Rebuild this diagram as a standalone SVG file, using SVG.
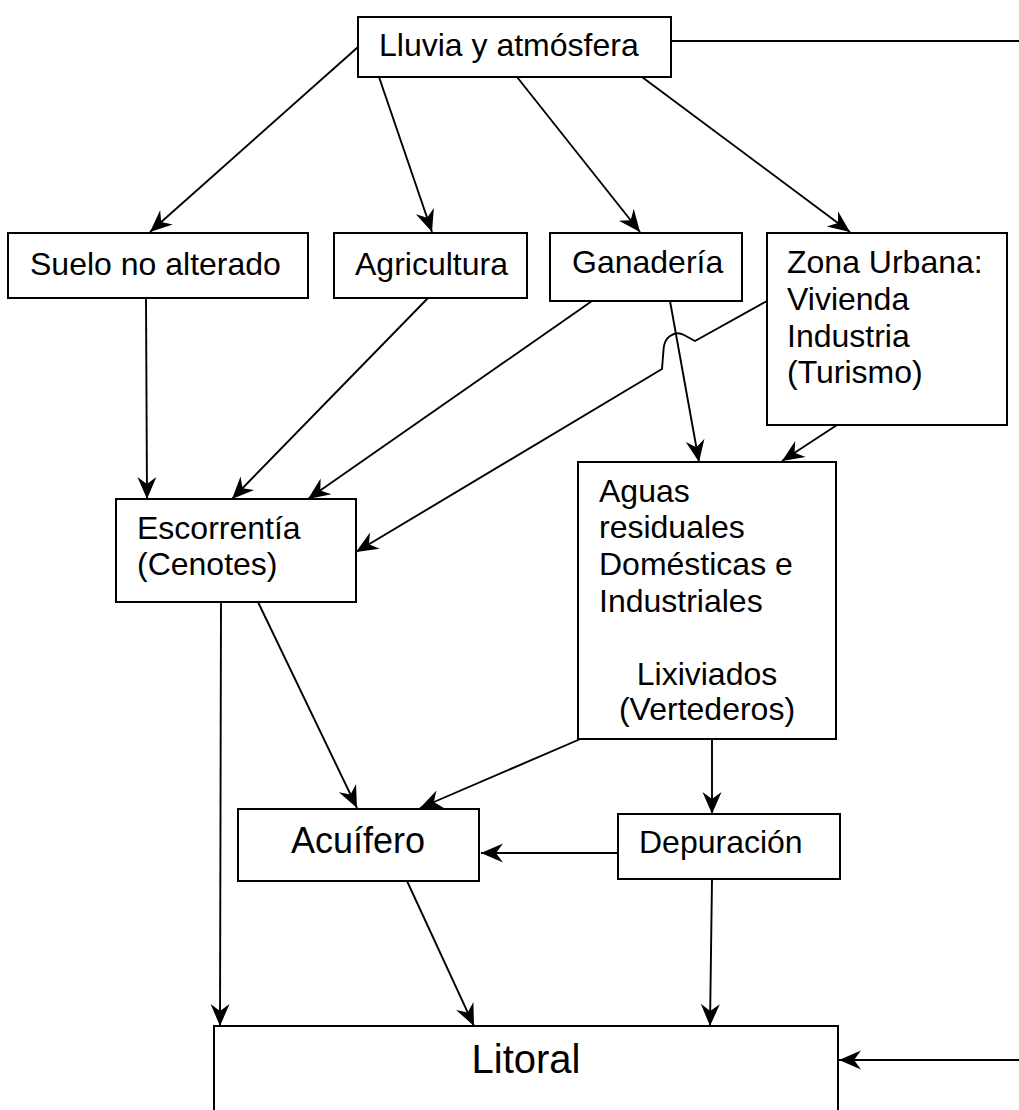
<svg xmlns="http://www.w3.org/2000/svg" width="1019" height="1110" viewBox="0 0 1019 1110">
  <style>
    .box { fill: #ffffff; stroke: #000000; stroke-width: 2; }
    .lbl { font-family: "Liberation Sans", Arial, sans-serif; font-size: 32px; fill: #000000; }
    .edge { fill: none; stroke: #000000; stroke-width: 1.9; }
  </style>
  <defs>
    <marker id="arrow" viewBox="-24 -11 25 22" refX="0" refY="0" markerWidth="25" markerHeight="22" orient="auto" markerUnits="userSpaceOnUse">
      <path d="M0,0 L-22,-9.5 L-15,0 L-22,9.5 Z" fill="#000000"/>
    </marker>
  </defs>
  <rect x="0" y="0" width="1019" height="1110" fill="#ffffff"/>

  <!-- connectors -->
  <g id="connectors">
    <line class="edge" x1="671" y1="41" x2="1019" y2="41"/>
    <line class="edge" x1="358" y1="47" x2="150" y2="232" marker-end="url(#arrow)"/>
    <line class="edge" x1="379" y1="77" x2="432" y2="232" marker-end="url(#arrow)"/>
    <line class="edge" x1="517" y1="77" x2="640" y2="232" marker-end="url(#arrow)"/>
    <line class="edge" x1="642" y1="77" x2="850" y2="232" marker-end="url(#arrow)"/>
    <line class="edge" x1="146" y1="298" x2="147" y2="499" marker-end="url(#arrow)"/>
    <line class="edge" x1="428" y1="298" x2="232" y2="499" marker-end="url(#arrow)"/>
    <line class="edge" x1="592" y1="301" x2="308" y2="499" marker-end="url(#arrow)"/>
    <!-- Zona Urbana to Escorrentía, hopping over the Ganadería line -->
    <path class="edge" d="M767,301 L695,341 L684,335 Q677,331 670,336 Q664,340 663.5,350 L662,369 L356,552" marker-end="url(#arrow)"/>
    <line class="edge" x1="670" y1="301" x2="699" y2="462" marker-end="url(#arrow)"/>
    <line class="edge" x1="837" y1="425" x2="782" y2="461" marker-end="url(#arrow)"/>
    <line class="edge" x1="221" y1="602" x2="220" y2="1026" marker-end="url(#arrow)"/>
    <line class="edge" x1="258" y1="602" x2="357" y2="808" marker-end="url(#arrow)"/>
    <line class="edge" x1="585" y1="737" x2="420" y2="808" marker-end="url(#arrow)"/>
    <line class="edge" x1="712" y1="739" x2="712" y2="814" marker-end="url(#arrow)"/>
    <line class="edge" x1="618" y1="853" x2="481" y2="853" marker-end="url(#arrow)"/>
    <line class="edge" x1="407" y1="881" x2="474" y2="1026" marker-end="url(#arrow)"/>
    <line class="edge" x1="712" y1="879" x2="710" y2="1026" marker-end="url(#arrow)"/>
    <line class="edge" x1="1019" y1="1060" x2="839" y2="1060" marker-end="url(#arrow)"/>
  </g>

  <!-- nodes -->
  <g id="lluvia">
    <rect class="box" x="358" y="17" width="313" height="60"/>
    <text class="lbl" x="379" y="56">Lluvia y atmósfera</text>
  </g>
  <g id="suelo">
    <rect class="box" x="8" y="233" width="300" height="65"/>
    <text class="lbl" x="30" y="275">Suelo no alterado</text>
  </g>
  <g id="agricultura">
    <rect class="box" x="334" y="233" width="193" height="65"/>
    <text class="lbl" x="355" y="275">Agricultura</text>
  </g>
  <g id="ganaderia">
    <rect class="box" x="550" y="233" width="192" height="68"/>
    <text class="lbl" x="572" y="273">Ganadería</text>
  </g>
  <g id="zona-urbana">
    <rect class="box" x="767" y="233" width="240" height="192"/>
    <text class="lbl" x="787" y="273">Zona Urbana:</text>
    <text class="lbl" x="787" y="310">Vivienda</text>
    <text class="lbl" x="787" y="346.5">Industria</text>
    <text class="lbl" x="787" y="383">(Turismo)</text>
  </g>
  <g id="escorrentia">
    <rect class="box" x="116" y="499" width="240" height="103"/>
    <text class="lbl" x="137" y="539">Escorrentía</text>
    <text class="lbl" x="137" y="575">(Cenotes)</text>
  </g>
  <g id="aguas-residuales">
    <rect class="box" x="578" y="462" width="258" height="277"/>
    <text class="lbl" x="599" y="502">Aguas</text>
    <text class="lbl" x="599" y="538">residuales</text>
    <text class="lbl" x="599" y="575">Domésticas e</text>
    <text class="lbl" x="599" y="612">Industriales</text>
    <text class="lbl" x="707" y="685" text-anchor="middle">Lixiviados</text>
    <text class="lbl" x="707" y="720" text-anchor="middle">(Vertederos)</text>
  </g>
  <g id="acuifero">
    <rect class="box" x="238" y="809" width="241" height="72"/>
    <text class="lbl" x="358" y="853" style="font-size:36px" text-anchor="middle">Acuífero</text>
  </g>
  <g id="depuracion">
    <rect class="box" x="618" y="814" width="222" height="65"/>
    <text class="lbl" x="639" y="853">Depuración</text>
  </g>
  <g id="litoral">
    <rect class="box" x="214" y="1026" width="624" height="120"/>
    <text class="lbl" x="526" y="1073" style="font-size:40px" text-anchor="middle">Litoral</text>
  </g>
</svg>
